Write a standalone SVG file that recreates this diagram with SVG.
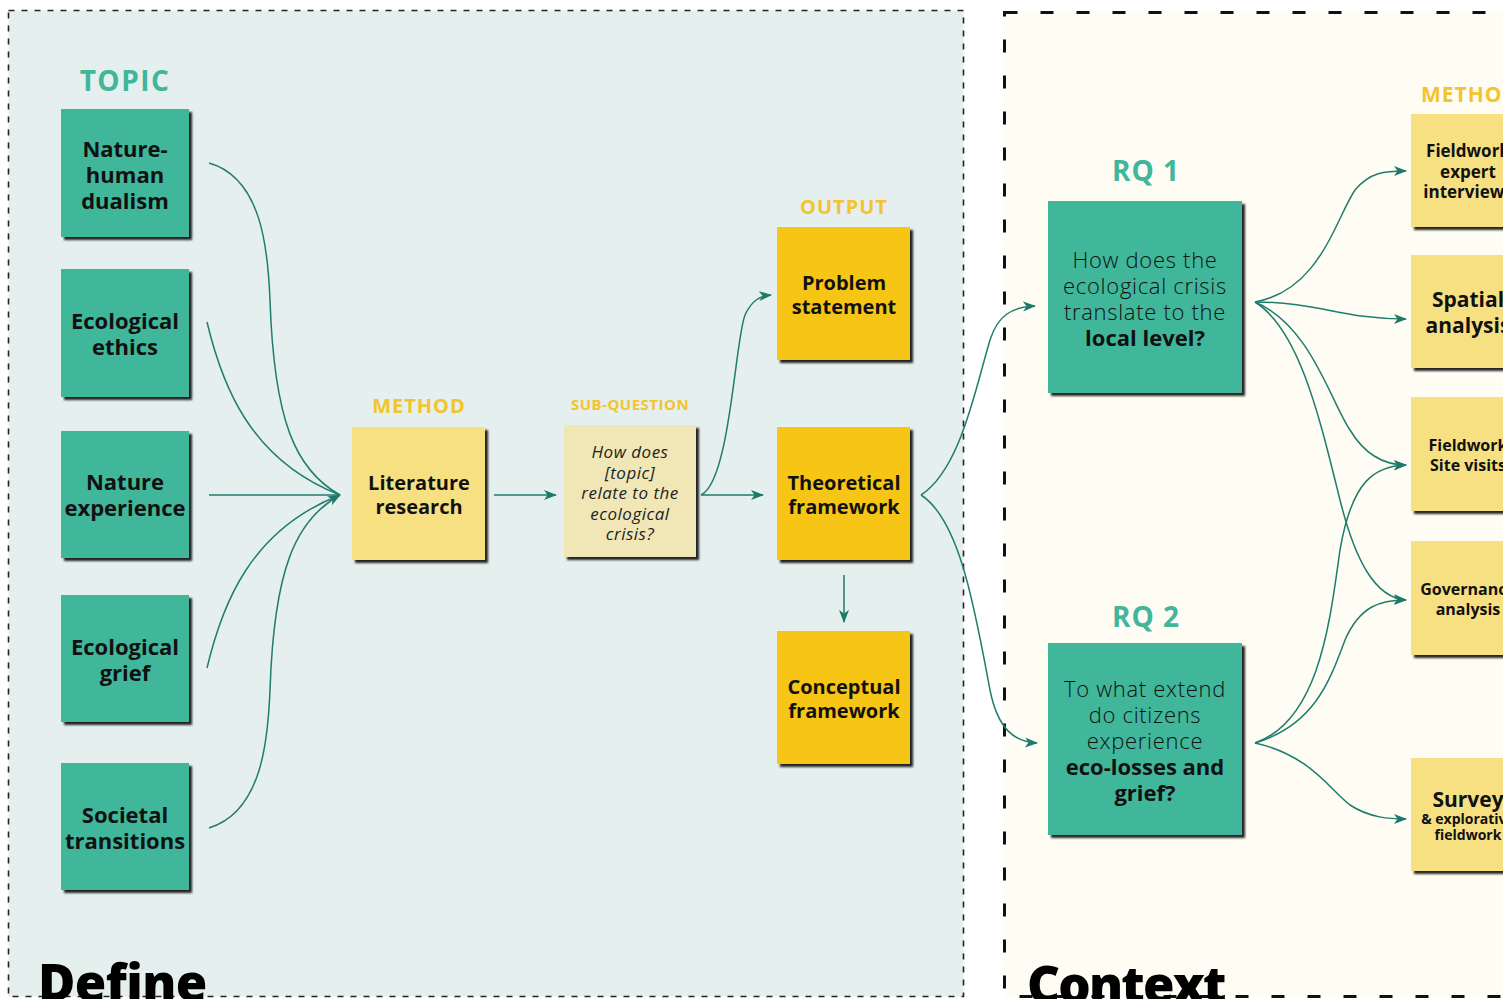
<svg xmlns="http://www.w3.org/2000/svg" width="1503" height="999" viewBox="0 0 1503 999">
  <defs>
    <marker id="arrow" markerUnits="userSpaceOnUse" markerWidth="14" markerHeight="11" refX="12" refY="5" orient="auto">
      <path d="M0,0 L13,5 L0,10 L3.5,5 Z" fill="#1d7a6b"/>
    </marker>
    <filter id="shadow" x="-10%" y="-10%" width="130%" height="130%">
      <feDropShadow dx="3" dy="3" stdDeviation="0.8" flood-color="#000" flood-opacity="0.85"/>
    </filter>
    <style>
      .panel-define { fill: #e5efed; stroke: #222; stroke-width: 1.6; stroke-dasharray: 6 7; }
      .panel-context { fill: #fefcf3; stroke: #111; stroke-width: 3; stroke-dasharray: 13 23; }
      .box { filter: url(#shadow); }
      .teal { fill: #41b69a; }
      .output { fill: #f6c517; }
      .method { fill: #f7e081; }
      .subq { fill: #f1e7b6; }
      text { font-family: "Open Sans", "Noto Sans", sans-serif; text-anchor: middle; fill: #111; }
      .bold { font-weight: 700; }
      .topic-txt { font-size: 22px; font-weight: 700; }
      .mid-txt { font-size: 20px; font-weight: 700; }
      .q-txt { font-size: 17px; font-style: italic; letter-spacing: 0.5px; fill: #222; }
      .rq-txt { font-size: 22px; font-weight: 300; letter-spacing: 0.7px; }
      .rq-bold { font-size: 22px; font-weight: 700; }
      .lbl-teal { fill: #41b69a; font-weight: 700; }
      .lbl-yellow { fill: #f3c42c; font-weight: 700; }
      .phase { font-size: 51px; font-weight: 800; text-anchor: start; fill: #000; }
      .conn path { fill: none; stroke: #1f7d6e; stroke-width: 1.5; }
    </style>
  </defs>

  <!-- background -->
  <rect x="0" y="0" width="1503" height="999" fill="#ffffff"/>

  <!-- phase panels -->
  <g id="panel-define">
    <rect class="panel-define" x="8.5" y="10.5" width="955" height="986"/>
    <text class="phase" x="38" y="1001" letter-spacing="-0.6">Define</text>
  </g>
  <g id="panel-context">
    <rect class="panel-context" x="1004.5" y="12.5" width="620" height="984"/>
    <text class="phase" x="1027" y="1003" letter-spacing="-1.8">Context</text>
  </g>

  <!-- column headings -->
  <g id="headings">
    <text class="lbl-teal" x="125" y="91" font-size="28" letter-spacing="1.5">TOPIC</text>
    <text class="lbl-yellow" x="419" y="413" font-size="20" letter-spacing="1">METHOD</text>
    <text class="lbl-yellow" x="630" y="410" font-size="15" letter-spacing="0.5">SUB-QUESTION</text>
    <text class="lbl-yellow" x="844" y="214" font-size="20" letter-spacing="1">OUTPUT</text>
    <text class="lbl-teal" x="1146" y="181" font-size="28" letter-spacing="1">RQ 1</text>
    <text class="lbl-teal" x="1146" y="627" font-size="28" letter-spacing="1">RQ 2</text>
    <text class="lbl-yellow" x="1421" y="102" font-size="21" letter-spacing="1" style="text-anchor:start">METHOD</text>
  </g>

  <!-- topic nodes -->
  <g id="topic-dualism">
    <rect class="box teal" x="61" y="109" width="128" height="128"/>
    <text class="topic-txt" x="125" y="157">Nature-</text>
    <text class="topic-txt" x="125" y="183">human</text>
    <text class="topic-txt" x="125" y="209">dualism</text>
  </g>
  <g id="topic-ethics">
    <rect class="box teal" x="61" y="269" width="128" height="128"/>
    <text class="topic-txt" x="125" y="329">Ecological</text>
    <text class="topic-txt" x="125" y="355">ethics</text>
  </g>
  <g id="topic-experience">
    <rect class="box teal" x="61" y="431" width="128" height="127"/>
    <text class="topic-txt" x="125" y="490">Nature</text>
    <text class="topic-txt" x="125" y="516">experience</text>
  </g>
  <g id="topic-grief">
    <rect class="box teal" x="61" y="595" width="128" height="127"/>
    <text class="topic-txt" x="125" y="655">Ecological</text>
    <text class="topic-txt" x="125" y="681">grief</text>
  </g>
  <g id="topic-transitions">
    <rect class="box teal" x="61" y="763" width="128" height="127"/>
    <text class="topic-txt" x="125" y="823">Societal</text>
    <text class="topic-txt" x="125" y="849">transitions</text>
  </g>

  <!-- method / sub-question -->
  <g id="literature-research">
    <rect class="box method" x="352" y="427" width="133" height="133"/>
    <text class="mid-txt" x="419" y="490">Literature</text>
    <text class="mid-txt" x="419" y="514">research</text>
  </g>
  <g id="sub-question">
    <rect class="box subq" x="564" y="425" width="132" height="132"/>
    <text class="q-txt" x="630" y="458">How does</text>
    <text class="q-txt" x="630" y="479">[topic]</text>
    <text class="q-txt" x="630" y="499">relate to the</text>
    <text class="q-txt" x="630" y="520">ecological</text>
    <text class="q-txt" x="630" y="540">crisis?</text>
  </g>

  <!-- outputs -->
  <g id="problem-statement">
    <rect class="box output" x="777" y="227" width="133" height="133"/>
    <text class="mid-txt" x="844" y="290">Problem</text>
    <text class="mid-txt" x="844" y="314">statement</text>
  </g>
  <g id="theoretical-framework">
    <rect class="box output" x="777" y="427" width="133" height="133"/>
    <text class="mid-txt" x="844" y="490">Theoretical</text>
    <text class="mid-txt" x="844" y="514">framework</text>
  </g>
  <g id="conceptual-framework">
    <rect class="box output" x="777" y="631" width="133" height="133"/>
    <text class="mid-txt" x="844" y="694">Conceptual</text>
    <text class="mid-txt" x="844" y="718">framework</text>
  </g>

  <!-- research questions -->
  <g id="rq1">
    <rect class="box teal" x="1048" y="201" width="194" height="192"/>
    <text class="rq-txt" x="1145" y="268">How does the</text>
    <text class="rq-txt" x="1145" y="294">ecological crisis</text>
    <text class="rq-txt" x="1145" y="320">translate to the</text>
    <text class="rq-bold" x="1145" y="346">local level?</text>
  </g>
  <g id="rq2">
    <rect class="box teal" x="1048" y="643" width="194" height="192"/>
    <text class="rq-txt" x="1145" y="697">To what extend</text>
    <text class="rq-txt" x="1145" y="723">do citizens</text>
    <text class="rq-txt" x="1145" y="749">experience</text>
    <text class="rq-bold" x="1145" y="775">eco-losses and</text>
    <text class="rq-bold" x="1145" y="801">grief?</text>
  </g>

  <!-- research methods -->
  <g id="method-interviews">
    <rect class="box method" x="1411" y="114" width="114" height="113"/>
    <text class="bold" x="1468" y="157" font-size="17">Fieldwork</text>
    <text class="bold" x="1468" y="178" font-size="17">expert</text>
    <text class="bold" x="1468" y="198" font-size="17">interviews</text>
  </g>
  <g id="method-spatial">
    <rect class="box method" x="1411" y="255" width="114" height="113"/>
    <text class="bold" x="1468" y="307" font-size="21">Spatial</text>
    <text class="bold" x="1468" y="333" font-size="21">analysis</text>
  </g>
  <g id="method-site-visits">
    <rect class="box method" x="1411" y="397" width="114" height="114"/>
    <text class="bold" x="1468" y="451" font-size="16">Fieldwork</text>
    <text class="bold" x="1468" y="471" font-size="16">Site visits</text>
  </g>
  <g id="method-governance">
    <rect class="box method" x="1411" y="541" width="114" height="114"/>
    <text class="bold" x="1468" y="595" font-size="16">Governance</text>
    <text class="bold" x="1468" y="615" font-size="16">analysis</text>
  </g>
  <g id="method-survey">
    <rect class="box method" x="1411" y="758" width="114" height="113"/>
    <text class="bold" x="1468" y="807" font-size="21">Survey</text>
    <text class="bold" x="1468" y="824" font-size="14">&amp; explorative</text>
    <text class="bold" x="1468" y="840" font-size="14">fieldwork</text>
  </g>

  <!-- connectors -->
  <g id="connectors" class="conn">
    <!-- topics into literature research -->
    <path d="M209,163 C262,178 268,250 270,300 C274,420 295,470 340,495"/>
    <path d="M207,322 C222,385 250,460 340,495"/>
    <path d="M209,495 L340,495"/>
    <path d="M207,668 C222,605 250,530 340,495"/>
    <path d="M209,828 C262,812 268,740 270,690 C274,570 295,520 340,495" marker-end="url(#arrow)"/>

    <path d="M494,495 L556,495" marker-end="url(#arrow)"/>
    <path d="M701,495 L763,495" marker-end="url(#arrow)"/>
    <path d="M701,495 C730,482 735,340 745,315 C752,300 760,296 771,295" marker-end="url(#arrow)"/>
    <path d="M844,575 L844,622" marker-end="url(#arrow)"/>

    <!-- theoretical framework into research questions -->
    <path d="M921,495 C960,470 975,390 990,340 C998,315 1012,307 1035,306" marker-end="url(#arrow)"/>
    <path d="M921,495 C960,520 975,610 990,690 C998,730 1015,742 1037,743" marker-end="url(#arrow)"/>

    <!-- RQ 1 into methods -->
    <path d="M1255,302 C1320,290 1335,220 1355,190 C1370,172 1385,171 1406,171" marker-end="url(#arrow)"/>
    <path d="M1255,302 C1320,302 1340,319 1406,319" marker-end="url(#arrow)"/>
    <path d="M1255,302 C1310,325 1330,400 1350,430 C1365,455 1385,465 1406,465" marker-end="url(#arrow)"/>
    <path d="M1255,302 C1300,330 1320,420 1340,500 C1355,560 1375,598 1406,600" marker-end="url(#arrow)"/>

    <!-- RQ 2 into methods -->
    <path d="M1255,743 C1320,720 1330,620 1340,550 C1352,480 1375,466 1406,465" marker-end="url(#arrow)"/>
    <path d="M1255,743 C1315,725 1330,680 1345,640 C1360,606 1380,600 1406,600" marker-end="url(#arrow)"/>
    <path d="M1255,743 C1310,755 1330,790 1350,805 C1370,818 1390,819 1406,819" marker-end="url(#arrow)"/>
  </g>
</svg>
